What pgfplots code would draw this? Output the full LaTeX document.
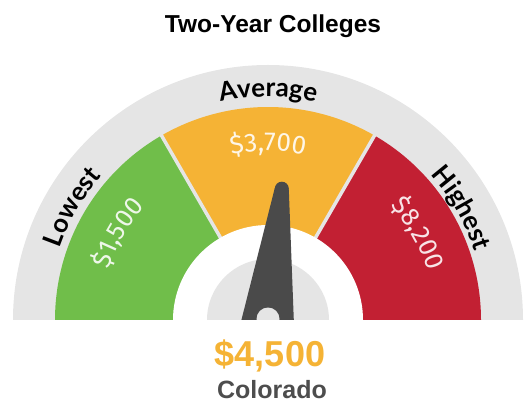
\documentclass[border=0pt]{standalone}
\usepackage{fontspec}
\setmainfont{Liberation Sans}
\newfontfamily\lato{Lato}
\newfontfamily\fira{Fira Sans}
\usepackage{pgfplots}
\pgfplotsset{compat=1.18}
\usetikzlibrary{decorations.text}
\definecolor{ring}{HTML}{E5E5E5}
\definecolor{lowc}{HTML}{70BE4A}
\definecolor{avgc}{HTML}{F5B335}
\definecolor{highc}{HTML}{C22033}
\definecolor{needle}{HTML}{4A4A4A}
\definecolor{state}{HTML}{4D4D4D}

\begin{document}
\begin{tikzpicture}
\begin{axis}[hide axis, scale only axis, width=532pt, height=407pt,
  xmin=-268, xmax=264, ymin=-87, ymax=320, clip=false]
\path (axis cs:-268,-87) rectangle (axis cs:264,320);
% gauge background (half discs)
\fill[ring] ([shift={(180:255pt)}]axis cs:0,0) arc[start angle=180,end angle=0,radius=255pt] -- cycle;
\fill[lowc] (axis cs:0,0) -- ([shift={(180:213pt)}]axis cs:0,0) arc[start angle=180,end angle=120,radius=213pt] -- cycle;
\fill[avgc] (axis cs:0,0) -- ([shift={(120:213pt)}]axis cs:0,0) arc[start angle=120,end angle=60,radius=213pt] -- cycle;
\fill[highc] (axis cs:0,0) -- ([shift={(60:213pt)}]axis cs:0,0) arc[start angle=60,end angle=0,radius=213pt] -- cycle;
\draw[ring, line width=3.5pt] (axis cs:0,0) -- ([shift={(120:214pt)}]axis cs:0,0);
\draw[ring, line width=3.5pt] (axis cs:0,0) -- ([shift={(60:214pt)}]axis cs:0,0);
\fill[white] ([shift={(180:95pt)}]axis cs:0,0) arc[start angle=180,end angle=0,radius=95pt] -- cycle;
\fill[ring] ([shift={(180:61pt)}]axis cs:0,0) arc[start angle=180,end angle=0,radius=61pt] -- cycle;
% needle at $4,500
\addplot[fill=needle, draw=none] coordinates {(-26.6,0) (25.8,0) (20.8,130.6) (6.8,132.0)} -- cycle;
\fill[needle] (axis cs:13.8,131.3) circle[radius=7pt];
\fill[ring] (axis cs:0,1) circle[radius=11.5pt];
\fill[white] (axis cs:-268,-87) rectangle (axis cs:264,0);
% arc labels
\path[decorate, decoration={text along path, text align=center,
  text={|\lato\bfseries\fontsize{26}{26}\selectfont|Lowest}}]
  ([shift={(200:220pt)}]axis cs:0,0) arc[start angle=200,end angle=100,radius=220pt];
\path[decorate, decoration={text along path, text align=center,
  text={|\lato\bfseries\fontsize{26}{26}\selectfont|Average}}]
  ([shift={(150:223pt)}]axis cs:0,0) arc[start angle=150,end angle=30,radius=223pt];
\path[decorate, decoration={text along path, text align=center,
  text={|\lato\bfseries\fontsize{26}{26}\selectfont|Highest}}]
  ([shift={(80:218pt)}]axis cs:0,0) arc[start angle=80,end angle=-20,radius=218pt];
% values
\path[decorate, decoration={text along path, text align=center, text color=white!88!lowc,
  text={|\fira\fontsize{26}{26}\selectfont|{\$}1,500}}]
  ([shift={(200:167pt)}]axis cs:0,0) arc[start angle=200,end angle=100,radius=167pt];
\path[decorate, decoration={text along path, text align=center, text color=white!88!avgc,
  text={|\fira\fontsize{26}{26}\selectfont|{\$}3,700}}]
  ([shift={(150:169pt)}]axis cs:0,0) arc[start angle=150,end angle=30,radius=169pt];
\path[decorate, decoration={text along path, text align=center, text color=white!88!highc,
  text={|\fira\fontsize{26}{26}\selectfont|{\$}8,200}}]
  ([shift={(80:167pt)}]axis cs:0,0) arc[start angle=80,end angle=-20,radius=167pt];
% titles
\node[font=\bfseries\fontsize{24.5}{26}\selectfont, anchor=base] at (axis cs:5,287) {Two-Year Colleges};
\node[font=\bfseries\fontsize{36}{38}\selectfont, text=avgc, anchor=base] at (axis cs:2,-46) {\$4,500};
\node[font=\bfseries\fontsize{25}{27}\selectfont, text=state, anchor=base] at (axis cs:4,-78) {Colorado};
\end{axis}
\end{tikzpicture}
\end{document}
